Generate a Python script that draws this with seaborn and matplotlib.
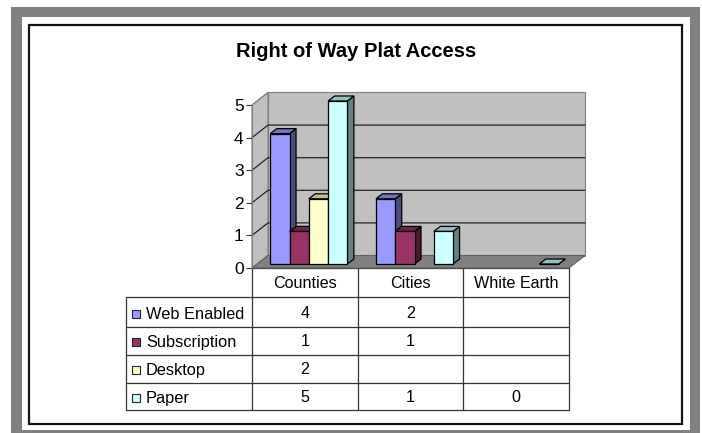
import numpy as np
import pandas as pd
import matplotlib
matplotlib.use("Agg")
import matplotlib.pyplot as plt
from matplotlib.patches import Polygon, Rectangle
from matplotlib.transforms import Affine2D
import seaborn as sns

categorias = ['Counties', 'Cities', 'White Earth']
series = ['Web Enabled', 'Subscription', 'Desktop', 'Paper']
web_enabled = [4, 2, np.nan]
subscription = [1, 1, np.nan]
desktop = [2, np.nan, np.nan]
paper = [5, 1, 0]
colores = ['#9999FF', '#993366', '#FFFFCC', '#CCFFFF']
ticks_y = [0, 1, 2, 3, 4, 5]

W, H = 702, 433
sns.set_theme(style="white")
plt.rcParams['font.family'] = ['Liberation Sans', 'DejaVu Sans']


def oscurecer(color, f):
    r, g, b = matplotlib.colors.to_rgb(color)
    return (r * f, g * f, b * f)


def xpx(x):
    return x / W


def ypx(y):
    return 1 - y / H


df = pd.DataFrame({
    'categoria': categorias * 4,
    'serie': np.repeat(series, 3),
    'valor': web_enabled + subscription + desktop + paper,
})

fig = plt.figure(figsize=(W / 100, H / 100), dpi=100, facecolor='white')

# marco exterior
fondo = fig.add_axes([0, 0, 1, 1], zorder=0)
fondo.set_xlim(0, W)
fondo.set_ylim(H, 0)
fondo.axis('off')
fondo.add_patch(Rectangle((11, 7), 689, 430, fc='#808080', ec='none', clip_on=True))
fondo.add_patch(Rectangle((22, 17), 668, 413, fc='white', ec='none'))
fondo.add_patch(Rectangle((28.5, 24.5), 653.5, 399, fc='white', ec='#111111', lw=1.6))

# plano frontal: x 252-569, y 268-105
ax = fig.add_axes([xpx(252), ypx(268), 317 / W, 163 / H], zorder=1)
ax.patch.set_alpha(0)

sns.barplot(data=df, x='categoria', y='valor', hue='serie', order=categorias,
            hue_order=series, palette=colores, width=0.73, gap=0, saturation=1,
            edgecolor='black', linewidth=0.9, legend=False, ax=ax)

ax.set_xlim(-0.5, 2.5)
ax.set_ylim(0, 5)
ax.set_xlabel('')
ax.set_ylabel('')
ax.set_xticks([])
ax.set_yticks(ticks_y)
ax.set_yticklabels([str(t) for t in ticks_y], fontsize=12.5, color='black')
ax.tick_params(axis='y', length=4, width=0.8, color='#333333', pad=2, left=True)
for s in ax.spines.values():
    s.set_visible(False)

# profundidad en pixeles
PROF_X, PROF_Y = 16, 12.5
BAR_X, BAR_Y = 4, 4
DEP_X, DEP_Y = 6.5, 5
base = ax.transData
pared = base + Affine2D().translate(PROF_X, PROF_Y)

# paredes y piso
x0, x1 = ax.get_xlim()


def caja(puntos, **kw):
    ax.add_patch(Polygon(puntos, closed=True, clip_on=False, **kw))


ax.add_patch(Rectangle((x0, 0), x1 - x0, 5, transform=pared, fc='#C0C0C0',
                       ec='#808080', lw=0.8, zorder=0.5, clip_on=False))
d = (x1 - x0) / 317 * PROF_X
e = 5 / 163 * PROF_Y
caja([(x0, 0), (x0 + d, e), (x0 + d, 5 + e), (x0, 5)], fc='#C0C0C0', ec='#808080', lw=0.8, zorder=0.6)
caja([(x0, 0), (x0 + d, e), (x1 + d, e), (x1, 0)], fc='#808080', ec='#606060', lw=0.8, zorder=0.7)
for t in ticks_y[1:-1]:
    ax.plot([x0, x0 + d, x1 + d], [t, t + e, t + e], color='#222222', lw=0.9, zorder=0.8, clip_on=False)
ax.plot([x0, x0 + d], [5, 5 + e], color='#808080', lw=0.8, zorder=0.8, clip_on=False)
ax.plot([x0, x0], [0, 5], color='#808080', lw=0.8, zorder=0.8, clip_on=False)

# caras 3D de las barras dibujadas por seaborn
despl = base + Affine2D().translate(BAR_X, BAR_Y)
dx = (x1 - x0) / 317 * DEP_X
dy = 5 / 163 * DEP_Y
for i, cont in enumerate(ax.containers):
    col = colores[i]
    for b in cont:
        if np.isnan(b.get_height()):
            continue
        b.set_transform(despl)
        b.set_clip_on(False)
        b.set_zorder(3 + i)
        bx, bw, bh = b.get_x(), b.get_width(), b.get_height()
        ax.add_patch(Polygon([(bx + bw, 0), (bx + bw + dx, dy), (bx + bw + dx, bh + dy), (bx + bw, bh)],
                             closed=True, fc=oscurecer(col, 0.5), ec='black', lw=0.9,
                             transform=despl, zorder=2.9 + i, clip_on=False))
        ax.add_patch(Polygon([(bx, bh), (bx + dx, bh + dy), (bx + bw + dx, bh + dy), (bx + bw, bh)],
                             closed=True, fc=oscurecer(col, 0.75), ec='black', lw=0.9,
                             transform=despl, zorder=2.95 + i, clip_on=False))

# titulo
fondo.text(356, 56.7, 'Right of Way Plat Access', fontsize=14.5, fontweight='bold',
           ha='center', va='baseline', color='black', zorder=5)

# tabla de datos
col_x = [252, 357.6, 463, 569]
fila_y = [268, 297.3, 327.3, 355.3, 383.3, 409.7]
izq = 126.3
base_nombre = [319.3, 347, 375, 403]
base_valor = [318.3, 346, 374, 401.7]
COLOR_T = '#333333'
LW_T = 0.9
fondo.plot([col_x[0], col_x[-1]], [fila_y[0]] * 2, color=COLOR_T, lw=LW_T)
for y in fila_y[1:]:
    fondo.plot([izq, col_x[-1]], [y, y], color=COLOR_T, lw=LW_T)
for x in col_x:
    fondo.plot([x, x], [fila_y[0], fila_y[-1]], color=COLOR_T, lw=LW_T)
fondo.plot([izq, izq], [fila_y[1], fila_y[-1]], color=COLOR_T, lw=LW_T)

for j, c in enumerate(categorias):
    fondo.text((col_x[j] + col_x[j + 1]) / 2, 287.5, c, fontsize=11.6, ha='center',
               va='baseline', color='black')

valores = [web_enabled, subscription, desktop, paper]
for i, s in enumerate(series):
    fondo.add_patch(Rectangle((131.5, base_nombre[i] - 9), 8, 8, fc=colores[i], ec='#222222', lw=0.8))
    fondo.text(146, base_nombre[i], s, fontsize=11.8, ha='left', va='baseline', color='black')
    for j, v in enumerate(valores[i]):
        if not np.isnan(v):
            fondo.text((col_x[j] + col_x[j + 1]) / 2, base_valor[i], str(int(v)), fontsize=11.6,
                       ha='center', va='baseline', color='black')

fig.savefig('out.png', dpi=100)
